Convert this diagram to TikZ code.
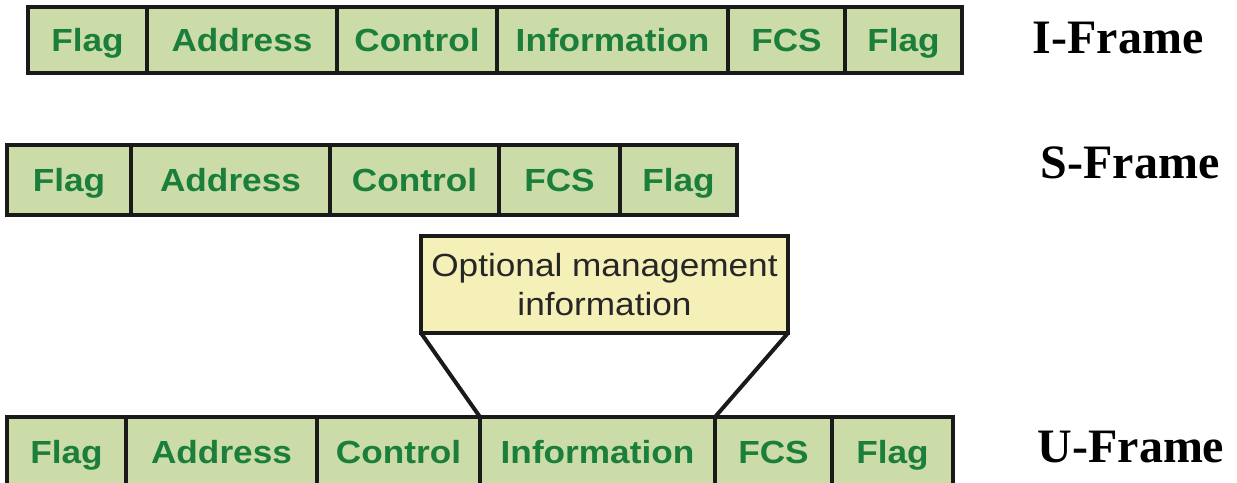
\documentclass[tikz,border=0pt]{standalone}
\usepackage{fontspec}
\setmainfont{Liberation Serif}
\newfontfamily\cellfont[FakeStretch=1.1]{Liberation Sans}
\usepackage{tikz}

\definecolor{cellfill}{HTML}{CBDCA8}
\definecolor{celltext}{HTML}{1B7F3B}
\definecolor{optfill}{HTML}{F4F0B8}
\definecolor{edge}{HTML}{1A1A1A}

\tikzset{
  cell/.style={draw=edge, line width=4pt, fill=cellfill, inner sep=0pt, outer sep=0pt,
    text=celltext, font=\cellfont\bfseries\fontsize{32}{38}\selectfont,
    text height=23pt, text depth=0pt},
  optbox/.style={draw=edge, line width=4pt, fill=optfill, inner sep=0pt, outer sep=0pt,
    align=center, text=black!85, font=\cellfont\fontsize{32}{39}\selectfont,
    minimum width=367pt, minimum height=97pt},
  frametitle/.style={anchor=base, font=\bfseries\fontsize{48}{56}\selectfont},
}

\begin{document}
\begin{tikzpicture}[x=1pt,y=-1pt]
    \useasboundingbox (0,0) rectangle (1237,482);

    % I-Frame
    \node[cell, minimum width=119, minimum height=66] (iflag)  at ( 87.5, 40) {Flag};
    \node[cell, minimum width=190, minimum height=66] (iaddr)  at (242  , 40) {Address};
    \node[cell, minimum width=160, minimum height=66] (ictrl)  at (417  , 40) {Control};
    \node[cell, minimum width=231, minimum height=66] (iinfo)  at (612.5, 40) {Information};
    \node[cell, minimum width=117, minimum height=66] (ifcs)   at (786.5, 40) {FCS};
    \node[cell, minimum width=117, minimum height=66] (iflagb) at (903.5, 40) {Flag};

    % S-Frame
    \node[cell, minimum width=124, minimum height=70] (sflag)  at ( 69  , 180) {Flag};
    \node[cell, minimum width=199, minimum height=70] (saddr)  at (230.5, 180) {Address};
    \node[cell, minimum width=169, minimum height=70] (sctrl)  at (414.5, 180) {Control};
    \node[cell, minimum width=121, minimum height=70] (sfcs)   at (559.5, 180) {FCS};
    \node[cell, minimum width=117, minimum height=70] (sflagb) at (678.5, 180) {Flag};

    % U-Frame
    \node[cell, minimum width=119, minimum height=70] (uflag)  at ( 66.5, 452) {Flag};
    \node[cell, minimum width=191, minimum height=70] (uaddr)  at (221.5, 452) {Address};
    \node[cell, minimum width=163, minimum height=70] (uctrl)  at (398.5, 452) {Control};
    \node[cell, minimum width=235, minimum height=70] (uinfo)  at (597.5, 452) {Information};
    \node[cell, minimum width=117, minimum height=70] (ufcs)   at (773.5, 452) {FCS};
    \node[cell, minimum width=121, minimum height=70] (uflagb) at (892.5, 452) {Flag};

    % management information box
    \node[optbox] (opt) at (604.5, 284.5) {Optional management\\information};
    \draw[edge, line width=4pt] (opt.south west) -- (uinfo.north west);
    \draw[edge, line width=4pt] (opt.south east) -- (uinfo.north east);

    \node[frametitle] (ititle) at (1118,  53) {I-Frame};
    \node[frametitle] (stitle) at (1130, 178) {S-Frame};
    \node[frametitle] (utitle) at (1131, 462) {U-Frame};
  \end{tikzpicture}
\end{document}
